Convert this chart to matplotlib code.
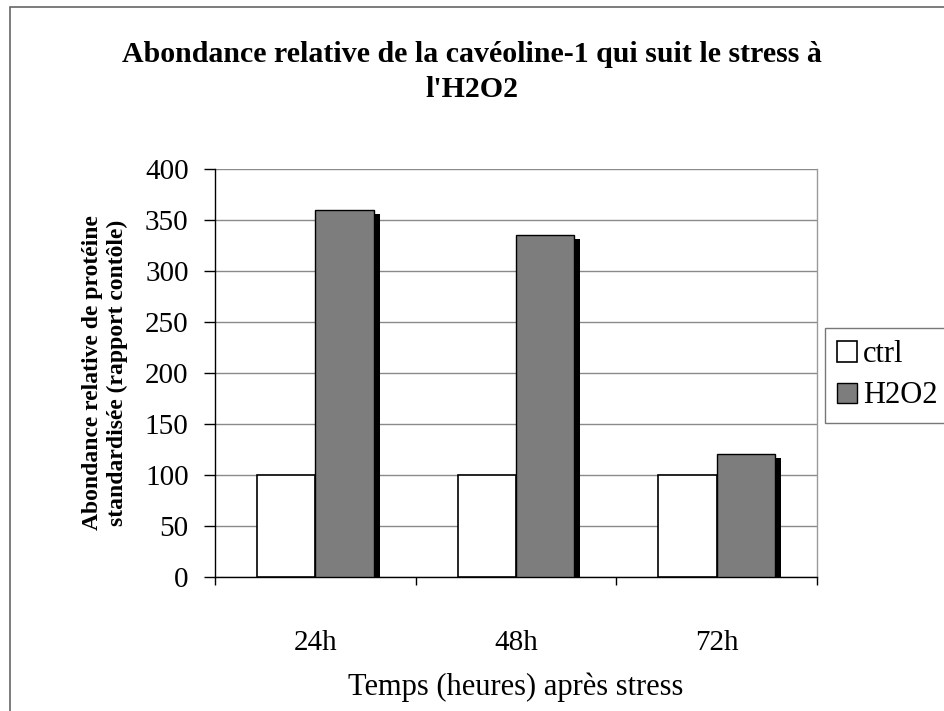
import matplotlib
matplotlib.use("Agg")
import matplotlib.pyplot as plt
import matplotlib.patheffects as pe
from matplotlib.patches import Rectangle
import numpy as np

categories = ["24h", "48h", "72h"]
ctrl = [100, 100, 100]
h2o2 = [360, 335, 121]
yticks = [0, 50, 100, 150, 200, 250, 300, 350, 400]

plt.rcParams['font.family'] = ['Liberation Serif', 'DejaVu Serif']

W, H = 944, 711
fig = plt.figure(figsize=(W / 100, H / 100), dpi=100)
fig.patch.set_facecolor('white')

# outer chart frame (left and top edges visible, rest cropped)
fig.add_artist(Rectangle((10 / W, -0.1), 1.2, 1.1 - 7 / H, transform=fig.transFigure,
                         fill=False, edgecolor='#666666', linewidth=1.2))

ax = fig.add_axes([215 / W, 1 - 577 / H, (817 - 215) / W, (577 - 169) / H])
x = np.arange(len(categories))
bw = 0.29
ax.bar(x - bw / 2, ctrl, bw, color='white', edgecolor='black', linewidth=1.2, zorder=3, label='ctrl')
bars = ax.bar(x + bw / 2, h2o2, bw, color='#7d7d7d', edgecolor='black', linewidth=1.0, zorder=3, label='H2O2')
for b in bars:
    b.set_path_effects([pe.SimplePatchShadow(offset=(4.5, -3), shadow_rgbFace='black', alpha=1.0), pe.Normal()])

ax.set_xlim(-0.5, len(categories) - 0.5)
ax.set_ylim(0, 400)
ax.set_yticks(yticks)
ax.set_yticklabels([str(t) for t in yticks], fontsize=21)
ax.yaxis.grid(True, color='#8a8a8a', linewidth=1.0, zorder=0)
ax.set_axisbelow(True)

ax.set_xticks(x)
ax.set_xticklabels(categories, fontsize=21)
ax.tick_params(axis='x', length=0, pad=38)
ax.set_xticks(np.arange(-0.5, len(categories)), minor=True)
ax.tick_params(axis='x', which='minor', length=6, direction='out', width=1, color='black')
ax.tick_params(axis='y', length=8, width=1, direction='out', pad=11)

for s in ['left', 'bottom']:
    ax.spines[s].set_color('black')
    ax.spines[s].set_linewidth(1.0)
ax.spines['top'].set_visible(False)
ax.spines['right'].set_color('#9a9a9a')
ax.spines['right'].set_linewidth(1.0)

ax.set_xlabel("Temps (heures) après stress", fontsize=22, labelpad=12)
ax.set_ylabel("Abondance relative de protéine\nstandardisée (rapport contôle)", fontsize=17,
              fontweight='bold', linespacing=1.24)
ax.yaxis.set_label_coords((105 - 215) / 602, 0.5)
ax.yaxis.label.set_va('center')

fig.text(472 / W, 1 - 72 / H, "Abondance relative de la cavéoline-1 qui suit le stress à\nl'H2O2",
         ha='center', va='center', fontsize=21.5, fontweight='bold', linespacing=1.36)

leg = fig.legend(loc='upper left', bbox_to_anchor=(825 / W, 1 - 328 / H), fontsize=22,
                 frameon=True, fancybox=False, edgecolor='#555555', borderpad=0.4,
                 handlelength=0.65, handleheight=0.65, handletextpad=0.2, labelspacing=0.4,
                 borderaxespad=0)
leg.get_frame().set_linewidth(1.0)
for h in leg.legend_handles:
    h.set_path_effects([])

fig.savefig("out.png", dpi=100, facecolor='white')
